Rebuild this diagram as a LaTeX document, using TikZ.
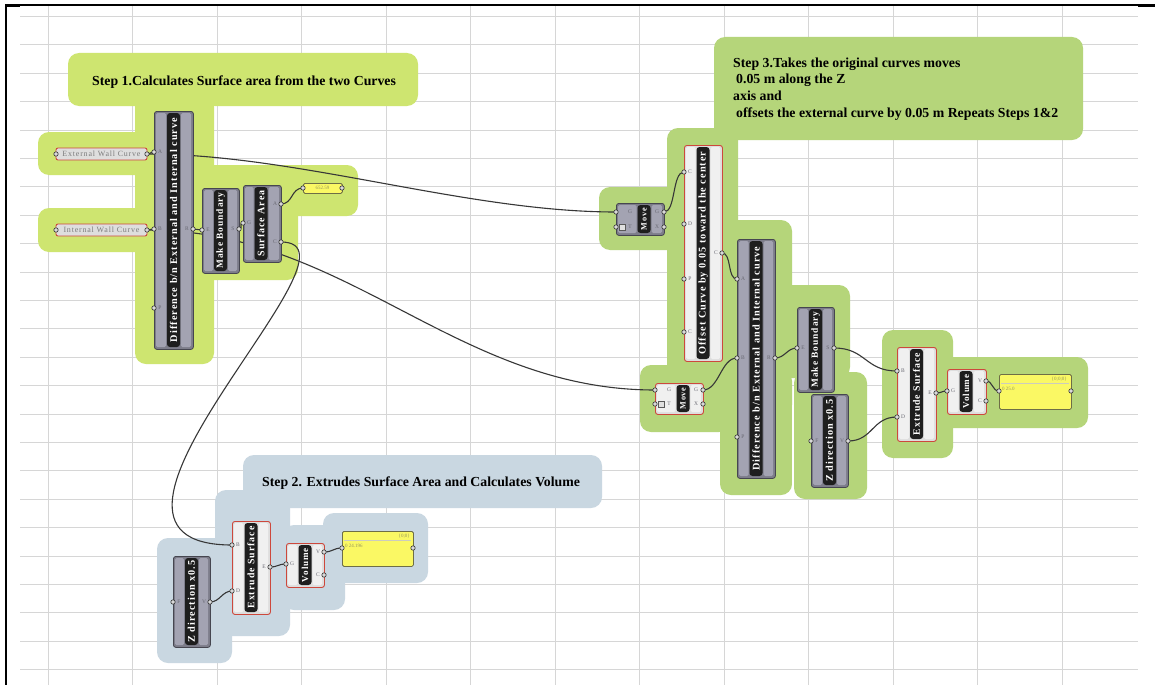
\documentclass[tikz,border=0pt]{standalone}
\usepackage{fontspec}
\setmainfont{Liberation Serif}
\newfontfamily\ghlab[LetterSpace=10]{Liberation Serif}
\newfontfamily\ghport{Liberation Serif}
\usetikzlibrary{calc}
\definecolor{gridc}{RGB}{214,214,214}
\definecolor{sone}{RGB}{206,229,112}
\definecolor{sthree}{RGB}{181,213,122}
\definecolor{stwo}{RGB}{201,215,225}
\definecolor{wirec}{RGB}{55,55,55}
\definecolor{cgbody}{RGB}{125,125,138}
\definecolor{cgside}{RGB}{163,163,178}
\definecolor{cgedge}{RGB}{70,70,80}
\definecolor{crbody}{RGB}{222,222,222}
\definecolor{crside}{RGB}{240,240,240}
\definecolor{credge}{RGB}{205,72,60}
\definecolor{stripc}{RGB}{30,30,30}
\definecolor{panelc}{RGB}{250,248,100}
\definecolor{paneledge}{RGB}{110,110,70}
\definecolor{paneltext}{RGB}{150,150,90}
\definecolor{portc}{RGB}{105,105,115}
\definecolor{paramtext}{RGB}{125,125,125}
\tikzset{
 compgray/.style={draw=cgedge, fill=cgbody, rounded corners=2.5pt, line width=0.8pt, inner sep=0pt},
 compred/.style={draw=credge, fill=crbody, rounded corners=2.5pt, line width=0.9pt, inner sep=0pt},
 sidegray/.style={fill=cgside, rounded corners=1.5pt},
 sidered/.style={fill=crside, rounded corners=1.5pt},
 stripbox/.style={fill=stripc, rounded corners=3pt, rotate=90, minimum height=13pt, inner sep=0pt, text=white},
 gripc/.style={fill=white!85!black, draw=black!80, line width=0.6pt},
 wire/.style={draw=wirec, line width=1.1pt},
 portlab/.style={font=\ghport\fontsize{5.5}{6}\selectfont, text=portc, inner sep=0pt},
 paramnode/.style={draw=credge, fill=crbody, rounded corners=2pt, line width=0.9pt, minimum width=91pt, minimum height=12pt, inner sep=0pt, text=paramtext},
 panelbox/.style={draw=paneledge, fill=panelc, rounded corners=1.5pt, line width=0.8pt, inner sep=0pt, anchor=north west},
 panelt/.style={font=\ghport\fontsize{5}{6}\selectfont, text=paneltext, inner sep=0pt},
 titletext/.style={font=\fontsize{13.8}{16}\selectfont\bfseries, inner sep=0pt, text=black, anchor=base west},
 gridline/.style={draw=gridc, line width=1pt},
}
\newcommand\ghcomp[9][gray]{%
 \node[comp#1, anchor=north west, minimum width={#5pt-#3pt}, minimum height={#6pt-#4pt}] (#2) at (#3,#4) {};
 \fill[side#1] (#3+2,#4+2) rectangle (#7-7.5,#6-2);
 \fill[side#1] (#7+7.5,#4+2) rectangle (#5-2,#6-2);
 \node[stripbox, minimum width={#6pt-#4pt-4pt}] at (#7,{(#4+#6)/2}) {\resizebox{#8pt}{!}{\ghlab\bfseries #9}};
}
\newcommand\pinlab[3]{%
 \node[portlab] at ($(#1)+(#3,0)$) {#2};
 \draw[gripc] (#1) circle[radius=2.2pt];
}
\newcommand\grip[1]{\draw[gripc] (#1) circle[radius=2.2pt];}
\newcommand\wire[3]{\draw[wire] (#1) .. controls +(#3,0) and +(-#3,0) .. (#2);}
\begin{document}
\begin{tikzpicture}[x=1pt,y=-1pt]
\useasboundingbox (0,0) rectangle (1155,685);
\fill[white] (0,0) rectangle (1155,685);
% grid
\foreach \k in {0,...,12} \draw[gridline] ({48+84.5*\k},5) -- ({48+84.5*\k},685);
\foreach \k in {0,...,23} \draw[gridline] (20,{16.4+28.4*\k}) -- (1138,{16.4+28.4*\k});
% frame
\draw[black, line width=1.6pt] (5,5) -- (1155,5);
\draw[black, line width=2.6pt] (5,5.5) -- (20,5.5);
\draw[black, line width=2.6pt] (1138,5.5) -- (1155,5.5);
\draw[black, line width=2pt] (6,5) -- (6,685);
% ---------- groups ----------
% step 1
\fill[sone, rounded corners=11pt] (68,53) rectangle (418,106);
\fill[sone, rounded corners=11pt] (135,96) rectangle (214,364);
\fill[sone, rounded corners=11pt] (38,132) rectangle (150,175);
\fill[sone, rounded corners=11pt] (38,208) rectangle (150,252);
\fill[sone, rounded corners=11pt] (200,165) rectangle (358,216);
\fill[sone, rounded corners=11pt] (200,165) rectangle (298,280);
% step 3
\fill[sthree, rounded corners=11pt] (714,37) rectangle (1083,140);
\fill[sthree, rounded corners=11pt] (667,128) rectangle (738,380);
\fill[sthree, rounded corners=11pt] (667,220) rectangle (792,380);
\fill[sthree, rounded corners=11pt] (770,285) rectangle (850,378);
\fill[sthree, rounded corners=11pt] (794,372) rectangle (867,499);
\fill[sthree, rounded corners=11pt] (720,370) rectangle (792,495);
\fill[sthree, rounded corners=11pt] (640,365) rectangle (730,432);
\fill[sthree, rounded corners=11pt] (599,187) rectangle (690,250);
\draw[white, line width=1.2pt] (793,405) -- (793,497);
\fill[sthree, rounded corners=11pt] (882,330) rectangle (953,458);
\fill[sthree, rounded corners=11pt] (882,357) rectangle (1088,428);
% step 2
\fill[stwo, rounded corners=11pt] (243,455) rectangle (602,508);
\fill[stwo, rounded corners=11pt] (215,490) rectangle (290,636);
\fill[stwo, rounded corners=11pt] (157,538) rectangle (232,663);
\fill[stwo, rounded corners=11pt] (283,525) rectangle (345,610);
\fill[stwo, rounded corners=11pt] (323,513) rectangle (428,583);
% titles
\node[titletext] (t1) at (92,85) {Step 1.Calculates Surface area from the two Curves};
\node[titletext] (t2) at (262,486) {Step 2. Extrudes Surface Area and Calculates Volume};
\node[titletext] (t3a) at (733,67) {Step 3.Takes the original curves moves};
\node[titletext] (t3b) at (736,83.5) {0.05 m along the Z};
\node[titletext] (t3c) at (733,100) {axis and};
\node[titletext] (t3d) at (736,117) {offsets the external curve by 0.05 m Repeats Steps 1\&2};
% ---------- port coordinates ----------
\coordinate (extI) at (56,154); \coordinate (extO) at (147,154);
\coordinate (intI) at (56,230); \coordinate (intO) at (147,230);
\coordinate (d1A) at (154,152); \coordinate (d1B) at (154,229); \coordinate (d1P) at (154,308); \coordinate (d1R) at (193,229);
\coordinate (mb1E) at (202,230); \coordinate (mb1S) at (239,229);
\coordinate (sa1G) at (243,223); \coordinate (sa1A) at (281,204); \coordinate (sa1C) at (281,242);
\coordinate (p1I) at (303,188); \coordinate (p1O) at (342,188);
\coordinate (z2F) at (173,602); \coordinate (z2V) at (210,602);
\coordinate (ex2B) at (232,545); \coordinate (ex2D) at (232,591); \coordinate (ex2E) at (270,567);
\coordinate (vol2G) at (286,564); \coordinate (vol2V) at (324,552); \coordinate (vol2C) at (324,575);
\coordinate (p2I) at (342,548); \coordinate (p2O) at (413,548);
\coordinate (mv1G) at (616,212); \coordinate (mv1T) at (616,227); \coordinate (mv1Go) at (664,212); \coordinate (mv1X) at (664,227);
\coordinate (offC) at (684,172); \coordinate (offD) at (684,224); \coordinate (offP) at (684,279); \coordinate (offCc) at (684,332); \coordinate (offO) at (722,253);
\coordinate (d2A) at (737,279); \coordinate (d2B) at (737,358); \coordinate (d2P) at (737,437); \coordinate (d2R) at (775,358);
\coordinate (mb2E) at (797,348); \coordinate (mb2S) at (834,348);
\coordinate (z3F) at (811,441); \coordinate (z3V) at (848,441);
\coordinate (mv2G) at (655,390); \coordinate (mv2T) at (655,404); \coordinate (mv2Go) at (703,390); \coordinate (mv2X) at (703,404);
\coordinate (ex3B) at (897,371); \coordinate (ex3D) at (897,417); \coordinate (ex3E) at (936,393);
\coordinate (vol3G) at (947,391); \coordinate (vol3V) at (986,381); \coordinate (vol3C) at (986,401);
\coordinate (p3I) at (999,391); \coordinate (p3O) at (1071,391);
% ---------- wires ----------
\draw[wire] (extO) .. controls +(150,0) and +(-150,0) .. (mv1G);
\draw[wire] (intO) .. controls +(200,0) and +(-200,0) .. (mv2G);
\draw[wire] (sa1C) .. controls +(99,0) and +(-192,0) .. (ex2B);
\wire{extO}{d1A}{4}
\wire{intO}{d1B}{4}
\wire{d1R}{mb1E}{5}
\wire{mb1S}{sa1G}{5}
\wire{sa1A}{p1I}{12}
\wire{z2V}{ex2D}{10}
\wire{ex2E}{vol2G}{8}
\wire{vol2V}{p2I}{9}
\wire{mv1Go}{offC}{12}
\wire{offO}{d2A}{10}
\wire{mv2Go}{d2B}{16}
\wire{d2R}{mb2E}{10}
\wire{mb2S}{ex3B}{32}
\wire{z3V}{ex3D}{25}
\wire{ex3E}{vol3G}{6}
\wire{vol3V}{p3I}{7}
% ---------- parameters ----------
\node[paramnode] (ext) at (101.5,154) {\resizebox{78pt}{!}{\ghlab External Wall Curve}};
\node[paramnode] (int) at (101.5,230) {\resizebox{76pt}{!}{\ghlab Internal Wall Curve}};
\grip{extI}\grip{extO}\grip{intI}\grip{intO}
% ---------- components ----------
\ghcomp{d1}{154}{111}{193}{349}{173.5}{224}{Difference b/n External and Internal curve}
\ghcomp{mb1}{202}{188}{239}{273}{220.5}{76}{Make Boundary}
\ghcomp{sa1}{243}{185}{281}{262}{261}{66}{Surface Area}
\ghcomp{z2}{173}{556}{210}{647}{191.5}{82}{Z direction x0.5}
\ghcomp[red]{ex2}{232}{521}{270}{614}{251}{82}{Extrude Surface}
\ghcomp[red]{vol2}{286}{543}{324}{587}{305}{34}{Volume}
\ghcomp{mv1}{616}{203}{664}{235}{644}{22}{Move}
\ghcomp[red]{off}{684}{145}{722}{361}{703}{203}{Offset Curve by 0.05 toward the center}
\ghcomp{d2}{737}{239}{775}{478}{756}{224}{Difference b/n External and Internal curve}
\ghcomp{mb2}{797}{307}{834}{392}{815.5}{76}{Make Boundary}
\ghcomp{z3}{811}{394}{848}{487}{829.5}{82}{Z direction x0.5}
\ghcomp[red]{mv2}{655}{383}{703}{414}{683}{22}{Move}
\ghcomp[red]{ex3}{897}{347}{936}{441}{916.5}{82}{Extrude Surface}
\ghcomp[red]{vol3}{947}{369}{986}{414}{966}{34}{Volume}
% move icons
\draw[fill=white!88!black, draw=black!65, line width=0.5pt] (619,224) rectangle (625,230);
\draw[fill=white!88!black, draw=black!65, line width=0.5pt] (658,401) rectangle (664,407);
% ---------- panels ----------
\node[panelbox, minimum width=39pt, minimum height=10pt] (p1) at (303,183) {};
\node[panelt] at (322.5,188) {652.59};
\node[panelbox, minimum width=71pt, minimum height=35pt] (p2) at (342,531) {};
\draw[paneledge!35, line width=0.4pt] (344,540.5) -- (411,540.5);
\node[panelt, anchor=east] at (410,536) {\{0;0\}};
\node[panelt, anchor=west] at (345,546) {0 24.196};
\node[panelbox, minimum width=72pt, minimum height=35pt] (p3) at (999,374) {};
\draw[paneledge!35, line width=0.4pt] (1001,383.5) -- (1069,383.5);
\node[panelt, anchor=east] at (1067,379) {\{0;0;0\}};
\node[panelt, anchor=west] at (1002,389) {0 25.0};
\grip{p1I}\grip{p1O}\grip{p2I}\grip{p2O}\grip{p3I}\grip{p3O}
% ---------- port labels and grips ----------
\pinlab{d1A}{A}{6}\pinlab{d1B}{B}{6}\pinlab{d1P}{P}{6}\pinlab{d1R}{R}{-6}
\pinlab{mb1E}{E}{6}\pinlab{mb1S}{S}{-6}
\pinlab{sa1G}{G}{6}\pinlab{sa1A}{A}{-6}\pinlab{sa1C}{C}{-6}
\pinlab{z2F}{F}{6}\pinlab{z2V}{V}{-6}
\pinlab{ex2B}{B}{6}\pinlab{ex2D}{D}{6}\pinlab{ex2E}{E}{-6}
\pinlab{vol2G}{G}{6}\pinlab{vol2V}{V}{-6}\pinlab{vol2C}{C}{-6}
\pinlab{mv1G}{G}{14}\pinlab{mv1T}{T}{14}\pinlab{mv1Go}{G}{-7}\pinlab{mv1X}{X}{-7}
\pinlab{offC}{C}{6}\pinlab{offD}{D}{6}\pinlab{offP}{P}{6}\pinlab{offCc}{C}{6}\pinlab{offO}{C}{-6}
\pinlab{d2A}{A}{6}\pinlab{d2B}{B}{6}\pinlab{d2P}{P}{6}\pinlab{d2R}{R}{-6}
\pinlab{mb2E}{E}{6}\pinlab{mb2S}{S}{-6}
\pinlab{z3F}{F}{6}\pinlab{z3V}{V}{-6}
\pinlab{mv2G}{G}{14}\pinlab{mv2T}{T}{14}\pinlab{mv2Go}{G}{-7}\pinlab{mv2X}{X}{-7}
\pinlab{ex3B}{B}{6}\pinlab{ex3D}{D}{6}\pinlab{ex3E}{E}{-6}
\pinlab{vol3G}{G}{6}\pinlab{vol3V}{V}{-6}\pinlab{vol3C}{C}{-6}
\end{tikzpicture}
\end{document}
